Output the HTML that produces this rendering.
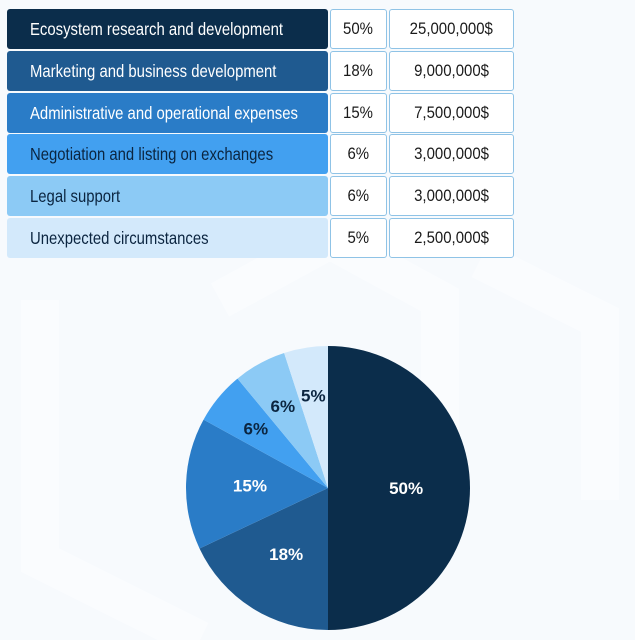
<!DOCTYPE html>
<html><head><meta charset="utf-8">
<style>
body{margin:0;width:635px;height:640px;background:#f7fafd;font-family:"Liberation Sans",sans-serif;overflow:hidden;position:relative}
.row{position:absolute;left:7px;width:321px;height:40px;border-radius:3px;font-size:17.5px;line-height:40px;padding-left:23px;box-sizing:border-box;white-space:nowrap}
.row span{display:inline-block;transform:scaleX(0.85);transform-origin:left center}
.cell{position:absolute;height:40px;background:#fff;border:1.5px solid #8fc3e6;box-sizing:border-box;font-size:17px;line-height:38px;text-align:center;color:#1a1a1a;border-radius:3px;white-space:nowrap}
.cell span{display:inline-block;transform:scaleX(0.88)}
</style></head><body>
<svg width="635" height="640" style="position:absolute;left:0;top:0">
<path d="M40 300 L40 560 L200 640 M220 300 L330 240 L440 300 L440 520 M480 260 L600 320 L600 500" stroke="#fbfdff" stroke-width="38" fill="none" opacity="0.6"/>
</svg>
<div id="table"></div>
<svg id="pie" width="635" height="640" style="position:absolute;left:0;top:0"></svg>
<script>
const categories=["Ecosystem research and development","Marketing and business development","Administrative and operational expenses","Negotiation and listing on exchanges","Legal support","Unexpected circumstances"];
const percents=[50,18,15,6,6,5];
const amounts=["25,000,000$","9,000,000$","7,500,000$","3,000,000$","3,000,000$","2,500,000$"];
const colors=["#0b2d4b","#1f5a90","#2a7cc7","#42a0f0","#8ccaf5","#d3e9fb"];
const textColors=["#fff","#fff","#fff","#0b2540","#0b2540","#0b2540"];
const tbl=document.getElementById('table');
categories.forEach((c,i)=>{
  const y=9+i*41.8;
  const r=document.createElement('div');r.className='row';
  
  
  r.style.top=y+'px';r.style.background=colors[i];r.style.color=textColors[i];
  const s=document.createElement('span');s.textContent=c;r.appendChild(s);tbl.appendChild(r);
  const p=document.createElement('div');p.className='cell';
  
  
  p.style.top=y+'px';p.style.left='330px';p.style.width='57px';
  const ps=document.createElement('span');ps.textContent=percents[i]+'%';p.appendChild(ps);tbl.appendChild(p);
  const a=document.createElement('div');a.className='cell';
  
  
  a.style.top=y+'px';a.style.left='389px';a.style.width='125px';
  const as=document.createElement('span');as.textContent=amounts[i];a.appendChild(as);tbl.appendChild(a);
});
const svg=document.getElementById('pie');const NS='http://www.w3.org/2000/svg';
const cx=328,cy=488,R=142;
const total=percents.reduce((s,v)=>s+v,0);
function pt(frac,r){const a=frac*2*Math.PI;return [cx+r*Math.sin(a),cy-r*Math.cos(a)];}
let acc=0;
percents.forEach((v,i)=>{
  const s=acc/total,e=(acc+v)/total;acc+=v;
  const p0=pt(s,R),p1=pt(e,R);
  const path=document.createElementNS(NS,'path');
  
  
  path.setAttribute('d',`M${cx},${cy} L${p0[0]},${p0[1]} A${R},${R} 0 ${e-s>0.5?1:0} 1 ${p1[0]},${p1[1]} Z`);
  path.setAttribute('fill',colors[i]);svg.appendChild(path);
  const lp=pt((s+e)/2,R*(v>=10?0.55:0.66));
  const t=document.createElementNS(NS,'text');
  
  
  t.setAttribute('x',lp[0]);t.setAttribute('y',lp[1]+6);t.setAttribute('text-anchor','middle');
  t.setAttribute('font-size','17');t.setAttribute('font-weight','bold');
  t.setAttribute('font-family','Liberation Sans, sans-serif');
  t.setAttribute('fill',i<3?'#fff':'#0b2540');t.textContent=v+'%';svg.appendChild(t);
});
</script>
</body></html>
